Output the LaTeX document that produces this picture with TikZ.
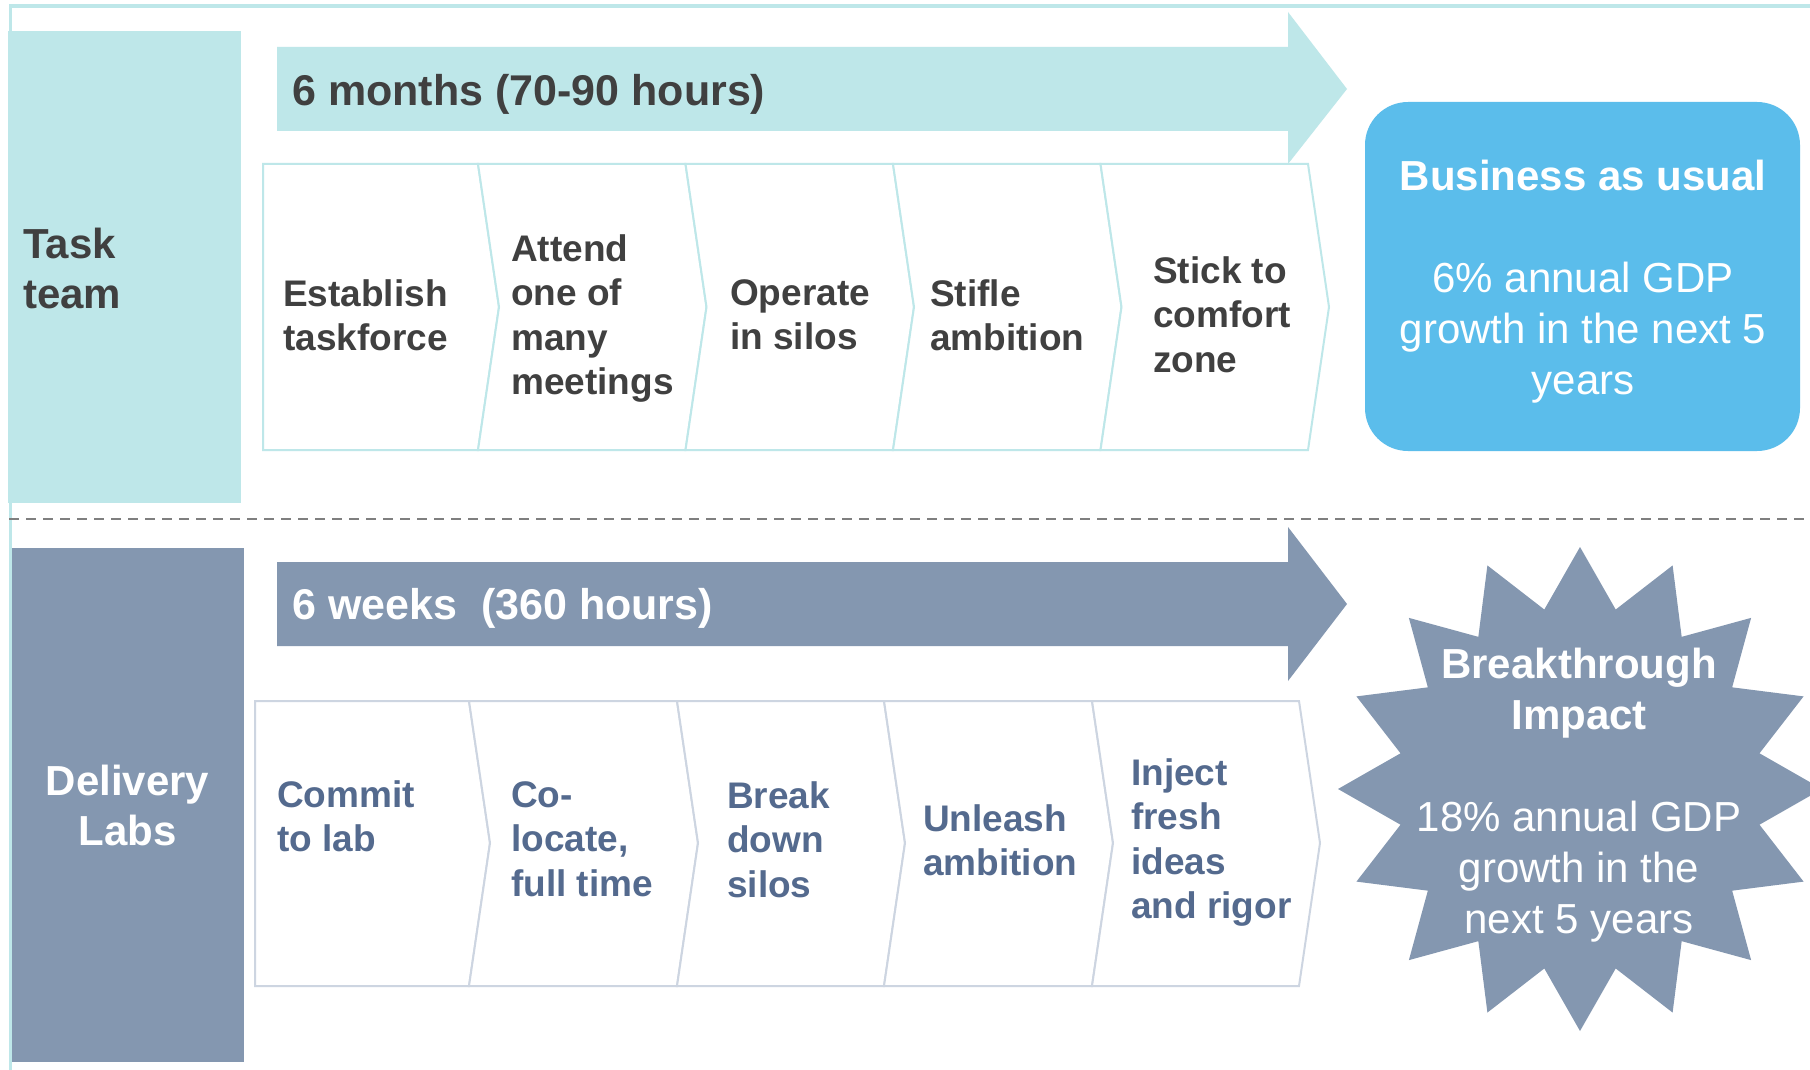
\documentclass[tikz,border=0pt]{standalone}
\usepackage{fontspec}
\setmainfont{Liberation Sans}
\definecolor{tealc}{HTML}{BEE7E9}
\definecolor{slatec}{HTML}{8497B0}
\definecolor{skyc}{HTML}{5BBDEB}
\definecolor{darktext}{HTML}{404040}
\definecolor{slatetext}{HTML}{546A8E}
\definecolor{chevgrey}{HTML}{CDD5E1}
\definecolor{dashgrey}{HTML}{7F7F7F}
\begin{document}
\begin{tikzpicture}[x=1pt,y=-1pt,
  chevtop/.style={draw=tealc, line width=2pt, fill=white},
  chevbot/.style={draw=chevgrey, line width=2pt, fill=white},
  steptxt/.style={inner sep=0pt, anchor=north west, align=left, font=\bfseries\fontsize{37}{44.5}\selectfont},
  toptxt/.style={steptxt, text=darktext},
  bottxt/.style={steptxt, text=slatetext},
  bigtxt/.style={inner sep=0pt, font=\bfseries\fontsize{42}{50.5}\selectfont},
  arrowtxt/.style={inner sep=0pt, anchor=base west, font=\bfseries\fontsize{43}{50.5}\selectfont},
  resulttxt/.style={inner sep=0pt, anchor=north, align=center, text=white, font=\fontsize{42}{51}\selectfont},
  framepen/.style={draw=tealc, line width=3.5pt},
  sepline/.style={draw=dashgrey, line width=2pt, dash pattern=on 10pt off 7pt}
  ]
\useasboundingbox (0,0) rectangle (1810,1070);
\clip (0,0) rectangle (1810,1070);
\fill[white] (0,0) rectangle (1810,1070);

% frame
\coordinate (ftl) at (9,6);
\coordinate (ftr) at (1810,6);
\coordinate (flt) at (10.5,4.25);
\coordinate (flb) at (10.5,1070);
\draw[framepen] (ftl) -- (ftr);
\draw[framepen] (flt) -- (flb);

% separator
\coordinate (sepl) at (9,519);
\coordinate (sepr) at (1810,519);
\draw[sepline] (sepl) -- (sepr);

% left labels
\fill[tealc] (8,31) rectangle (241,503);
\node[bigtxt, anchor=north west, align=left, text=darktext] (task) at (23,227.5) {Task\\team};
\fill[slatec] (11.5,548) rectangle (244,1062);
\node[bigtxt, anchor=north, align=center, text=white] (delivery) at (127.5,764.5) {Delivery\\Labs};

% top arrow
\fill[tealc] (277,47) -- (1288,47) -- (1288,12) -- (1347,89) -- (1288,164) -- (1288,131) -- (277,131) -- cycle;
\node[arrowtxt, text=darktext] (months) at (292,106) {6 months (70-90 hours)};

% bottom arrow
\fill[slatec] (277,562) -- (1288,562) -- (1288,527) -- (1347,604) -- (1288,681) -- (1288,646) -- (277,646) -- cycle;
\node[arrowtxt, text=white] (weeks) at (292,619) {6 weeks\ \ (360 hours)};

% top chevrons
\draw[chevtop] (263,164) -- (478,164) -- (499,307) -- (478,450) -- (263,450) -- cycle;
\draw[chevtop] (478,164) -- (685.5,164) -- (706.5,307) -- (685.5,450) -- (478,450) -- (499,307) -- cycle;
\draw[chevtop] (685.5,164) -- (893,164) -- (914,307) -- (893,450) -- (685.5,450) -- (706.5,307) -- cycle;
\draw[chevtop] (893,164) -- (1100.5,164) -- (1121.5,307) -- (1100.5,450) -- (893,450) -- (914,307) -- cycle;
\draw[chevtop] (1100.5,164) -- (1308,164) -- (1329,307) -- (1308,450) -- (1100.5,450) -- (1121.5,307) -- cycle;
\node[toptxt] (t1) at (283,279) {Establish\\taskforce};
\node[toptxt] (t2) at (511,234) {Attend\\one of\\many\\meetings};
\node[toptxt] (t3) at (730,279) {Operate\\in silos};
\node[toptxt] (t4) at (930,279) {Stifle\\ambition};
\node[toptxt] (t5) at (1153,256) {Stick to\\comfort\\zone};

% bottom chevrons
\draw[chevbot] (255,701) -- (469,701) -- (490,843) -- (469,986) -- (255,986) -- cycle;
\draw[chevbot] (469,701) -- (677,701) -- (698,843) -- (677,986) -- (469,986) -- (490,843) -- cycle;
\draw[chevbot] (677,701) -- (884,701) -- (905,843) -- (884,986) -- (677,986) -- (698,843) -- cycle;
\draw[chevbot] (884,701) -- (1092,701) -- (1113,843) -- (1092,986) -- (884,986) -- (905,843) -- cycle;
\draw[chevbot] (1092,701) -- (1299,701) -- (1320,843) -- (1299,986) -- (1092,986) -- (1113,843) -- cycle;
\node[bottxt] (b1) at (277,780) {Commit\\to lab};
\node[bottxt] (b2) at (511,781) {Co-\\locate,\\full time};
\node[bottxt] (b3) at (727,781) {Break\\down\\silos};
\node[bottxt] (b4) at (923,804) {Unleash\\ambition};
\node[bottxt] (b5) at (1131,758) {Inject\\fresh\\ideas\\and rigor};

% business as usual
\node[fill=skyc, rounded corners=43pt, minimum width=435pt, minimum height=349pt, inner sep=0pt] (bau) at (1582.5,276.5) {};
\node[resulttxt] (bautxt) at (1583,159.5) {{\bfseries Business as usual}\\[51pt]6\% annual GDP\\growth in the next 5\\years};

% breakthrough star
\coordinate (starc) at (1580,789);
\begin{scope}[shift={(starc)}]
\fill[slatec] (90:242) \foreach \i in {1,...,31}{ -- ({90+11.25*\i}:{212.5+29.5*cos(180*\i)}) } -- cycle;
\end{scope}
\node[resulttxt] (startxt) at (1579,647.5) {{\bfseries Breakthrough}\\{\bfseries Impact}\\[51pt]18\% annual GDP\\growth in the\\next 5 years};
\end{tikzpicture}
\end{document}
